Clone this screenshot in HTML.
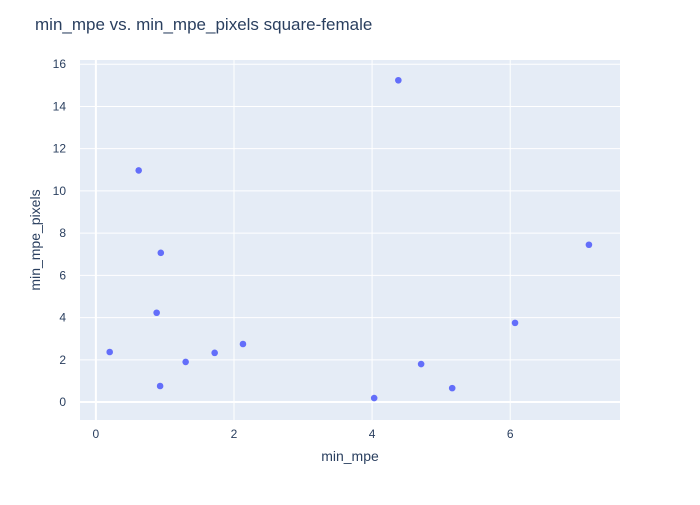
<!DOCTYPE html>
<html><head><meta charset="utf-8"><style>
body{margin:0;background:#fff;font-family:"Liberation Sans",Arial,sans-serif}
</style></head><body>
<svg id="chart" width="700" height="500" xmlns="http://www.w3.org/2000/svg">
<rect x="80" y="60" width="540" height="360" fill="#e5ecf6"/>
<g id="grid"></g><g id="pts"></g><g id="ticks"></g>
<text x="35" y="30" font-size="17" fill="#2a3f5f">min_mpe vs. min_mpe_pixels square-female</text>
<text x="350" y="461" font-size="14" fill="#2a3f5f" text-anchor="middle">min_mpe</text>
<text transform="translate(40,240) rotate(-90)" font-size="14" fill="#2a3f5f" text-anchor="middle">min_mpe_pixels</text>
</svg>
<script>
const xVals=[0.2,0.62,0.94,0.88,0.93,1.30,1.72,2.13,4.03,4.38,4.71,5.16,6.07,7.14];
const yVals=[2.37,10.97,7.07,4.23,0.76,1.90,2.33,2.75,0.19,15.24,1.80,0.66,3.75,7.45];
const xTicks=[0,2,4,6];
const yTicks=[0,2,4,6,8,10,12,14,16];
const X0=80,X1=620,Y0=60,Y1=420,xmin=-0.23,xmax=7.59,ymin=-0.85,ymax=16.2;
const sx=v=>X0+(v-xmin)/(xmax-xmin)*(X1-X0);
const sy=v=>Y1-(v-ymin)/(ymax-ymin)*(Y1-Y0);
const NS="http://www.w3.org/2000/svg";
function mk(t,a,p){const e=document.createElementNS(NS,t);for(const k in a)e.setAttribute(k,a[k]);p.appendChild(e);return e;}
const g=document.getElementById('grid'),tk=document.getElementById('ticks'),pts=document.getElementById('pts');
xTicks.forEach(v=>{
 const l=mk('line',{x1:sx(v),x2:sx(v),y1:Y0,y2:Y1,stroke:'#fff','stroke-width':v===0?2:1},g);
 
 
 const t=mk('text',{x:sx(v),y:438,'font-size':12,fill:'#2a3f5f','text-anchor':'middle'},tk);t.textContent=v;
 
 
});
yTicks.forEach(v=>{
 const l=mk('line',{x1:X0,x2:X1,y1:sy(v),y2:sy(v),stroke:'#fff','stroke-width':v===0?2:1},g);
 
 
 const t=mk('text',{x:X0-14,y:sy(v)+4,'font-size':12,fill:'#2a3f5f','text-anchor':'end'},tk);t.textContent=v;
 
 
});
xVals.forEach((v,i)=>{
 const c=mk('circle',{cx:sx(v),cy:sy(yVals[i]),r:3.3,fill:'#636efa'},pts);
 
 
});
</script>
</body></html>
